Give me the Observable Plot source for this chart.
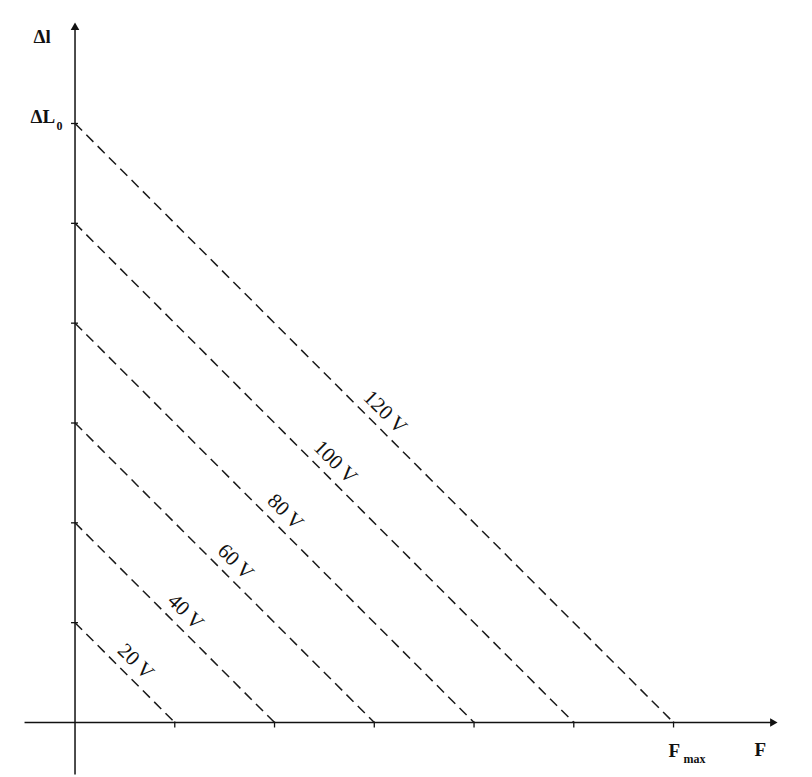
<!DOCTYPE html>
<html><head><meta charset="utf-8">
<script src="https://cdn.jsdelivr.net/npm/d3@7"></script>
<script src="https://cdn.jsdelivr.net/npm/@observablehq/plot@0.6"></script>
<style>body{margin:0;background:#fff}</style>
</head><body><div id="chart"></div>
<script>
// Data
const voltages = [20, 40, 60, 80, 100, 120];
const levels = [1, 2, 3, 4, 5, 6];           // intercepts, in sixths of ΔL0 and Fmax
const lineLabels = voltages.map(v => v + " V");
const xTicks = [1, 2, 3, 4, 5, 6];
const yTicks = [1, 2, 3, 4, 5, 6];
const fMax = 6;
const dL0 = 6;

const lines = voltages.map((v, i) => ({v, level: levels[i], label: lineLabels[i]}));

const serif = "Liberation Serif, Times New Roman, serif";
const ink = "#111";

const chart = Plot.plot({
  width: 812, height: 777,
  marginTop: 0, marginRight: 0, marginBottom: 0, marginLeft: 0,
  x: {domain: [-0.747, 7.393], axis: null},
  y: {domain: [-0.551, 7.232], axis: null},
  style: {background: "#fff"},
  marks: [
    // axes
    Plot.link([0], {x1: -0.506, x2: 6.99, y1: 0, y2: 0, stroke: ink, strokeWidth: 1.5}),
    Plot.link([0], {x1: 0, x2: 0, y1: -0.52, y2: 6.96, stroke: ink, strokeWidth: 1.5}),
    Plot.dot([0], {x: 6.993, y: 0, symbol: "triangle", r: 3.2, rotate: 90, fill: ink, stroke: null}),
    Plot.dot([0], {x: 0, y: 6.962, symbol: "triangle", r: 3.2, fill: ink, stroke: null}),
    // ticks
    Plot.link(xTicks, {x1: d => d, x2: d => d, y1: 0.01, y2: -0.05, stroke: ink, strokeWidth: 1.3}),
    Plot.link(yTicks, {x1: -0.04, x2: 0.03, y1: d => d, y2: d => d, stroke: ink, strokeWidth: 1.3}),
    // dashed characteristic lines
    Plot.link(lines, {x1: d => 0, y1: d => d.level, x2: d => d.level, y2: d => 0,
      stroke: "#1a1a1a", strokeWidth: 1.5, strokeDasharray: "10,6"}),
    // line labels
    Plot.text(lines, {x: d => d.level / 2, y: d => d.level / 2, text: "label", rotate: 45,
      dx: 11, dy: -11, fontFamily: serif, fontSize: 21, fill: ink, textAnchor: "middle", lineAnchor: "middle"}),
    // axis labels
    Plot.text([0], {x: 0, y: dL0, text: d => "Δl", dx: -41.5, dy: -80, textAnchor: "start", lineAnchor: "bottom",
      fontFamily: serif, fontSize: 19, fontWeight: "bold", fill: ink}),
    Plot.text([0], {x: 0, y: dL0, text: d => "ΔL", dx: -44.5, dy: 0, textAnchor: "start", lineAnchor: "bottom",
      fontFamily: serif, fontSize: 19, fontWeight: "bold", fill: ink}),
    Plot.text([0], {x: 0, y: dL0, text: d => "0", dx: -18.5, dy: 7, textAnchor: "start", lineAnchor: "bottom",
      fontFamily: serif, fontSize: 12, fontWeight: "bold", fill: ink}),
    Plot.text([0], {x: fMax, y: 0, text: d => "F", dx: -5, dy: 35, textAnchor: "start", lineAnchor: "bottom",
      fontFamily: serif, fontSize: 19, fontWeight: "bold", fill: ink}),
    Plot.text([0], {x: fMax, y: 0, text: d => "max", dx: 10, dy: 41, textAnchor: "start", lineAnchor: "bottom",
      fontFamily: serif, fontSize: 12, fontWeight: "bold", fill: ink}),
    Plot.text([0], {x: fMax, y: 0, text: d => "F", dx: 81, dy: 34, textAnchor: "start", lineAnchor: "bottom",
      fontFamily: serif, fontSize: 19, fontWeight: "bold", fill: ink})
  ]
});
document.getElementById("chart").appendChild(chart);
</script>
</body></html>
